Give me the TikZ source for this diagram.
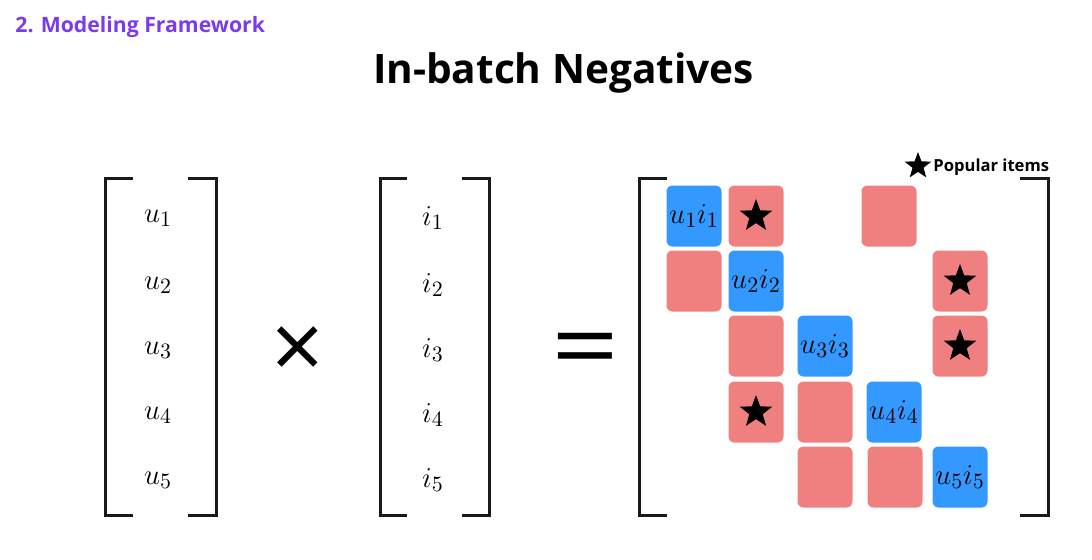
\documentclass[tikz,border=0pt]{standalone}
\usepackage{amsmath}
\usepackage[no-math]{fontspec}
\setmainfont{Open Sans}
\usetikzlibrary{shapes.geometric}
\definecolor{headpurple}{RGB}{123,58,236}
\definecolor{posblue}{RGB}{51,153,255}
\definecolor{negred}{RGB}{240,128,128}
\tikzset{
  brk/.style     = {line width=1.5pt, black!90},
  cell/.style    = {rounded corners=3pt, minimum width=27.5pt, minimum height=30.5pt,
                    inner sep=0pt},
  poscell/.style = {cell, fill=posblue, font=\fontsize{15}{17}\selectfont},
  negcell/.style = {cell, fill=negred},
  popstar/.style = {star, star points=5, star point ratio=2.4, fill=black,
                    inner sep=0pt, minimum size=17pt},
  vlab/.style    = {font=\fontsize{15}{17}\selectfont},
  op/.style      = {inner sep=0pt},
}
% pair of square brackets: left x, right x, serif length
\newcommand{\mbrack}[3]{%
  \draw[brk] (#1+#3,178) -- (#1,178) -- (#1,515) -- (#1+#3,515);
  \draw[brk] (#2-#3,178) -- (#2,178) -- (#2,515) -- (#2-#3,515);}

\begin{document}
\begin{tikzpicture}[x=0.5pt, y=-0.5pt]
  \fill[white] (0,0) rectangle (1092,559);
  \useasboundingbox (0,0) rectangle (1092,559);

  \node[font=\bfseries\fontsize{10.6}{13}\selectfont, text=headpurple, anchor=base west,
        inner sep=0pt] (head) at (15,32) {2. Modeling Framework};
  \node[font=\bfseries\fontsize{20.3}{24}\selectfont, anchor=base, inner sep=0pt]
    (title) at (563.5,83) {In-batch Negatives};

  % the two vectors
  \mbrack{105}{216}{28}
  \mbrack{380}{489}{27}
  \foreach \r/\y in {1/218, 2/285, 3/350, 4/415, 5/480} {
    \node[vlab] (u\r) at (158,\y) {$u_{\r}$};
    \node[vlab] (i\r) at (433,\y) {$i_{\r}$};
  }
  \node[op, font=\fontsize{46}{46}\selectfont] (times) at (297.5,353) {×};
  \node[op, font=\fontsize{54}{54}\selectfont] (equals) at (585.5,357)
    {\scalebox{1.1}[0.9]{=}};

  % score matrix
  \mbrack{639}{1048}{28}
  \foreach \r/\x/\y in {1/694/216, 2/756/281, 3/825/346, 4/894/412, 5/960/477}
    \node[poscell] (p\r) at (\x,\y) {$u_{\r}i_{\r}$};
  \foreach \n/\x/\y in {12/756/216, 14/889/216, 21/694/281, 25/960/281, 32/756/346,
                        35/960/346, 42/756/412, 43/825/412, 53/825/477, 54/895/477}
    \node[negcell] (n\n) at (\x,\y) {};
  \foreach \n in {12,25,35,42}
    \node[popstar] (s\n) at (n\n) {};

  \node[popstar, minimum size=14pt] (lstar) at (918,166) {};
  \node[font=\bfseries\fontsize{8.3}{10}\selectfont, anchor=base west, inner sep=0pt]
    (legend) at (933,171) {Popular items};
\end{tikzpicture}
\end{document}
